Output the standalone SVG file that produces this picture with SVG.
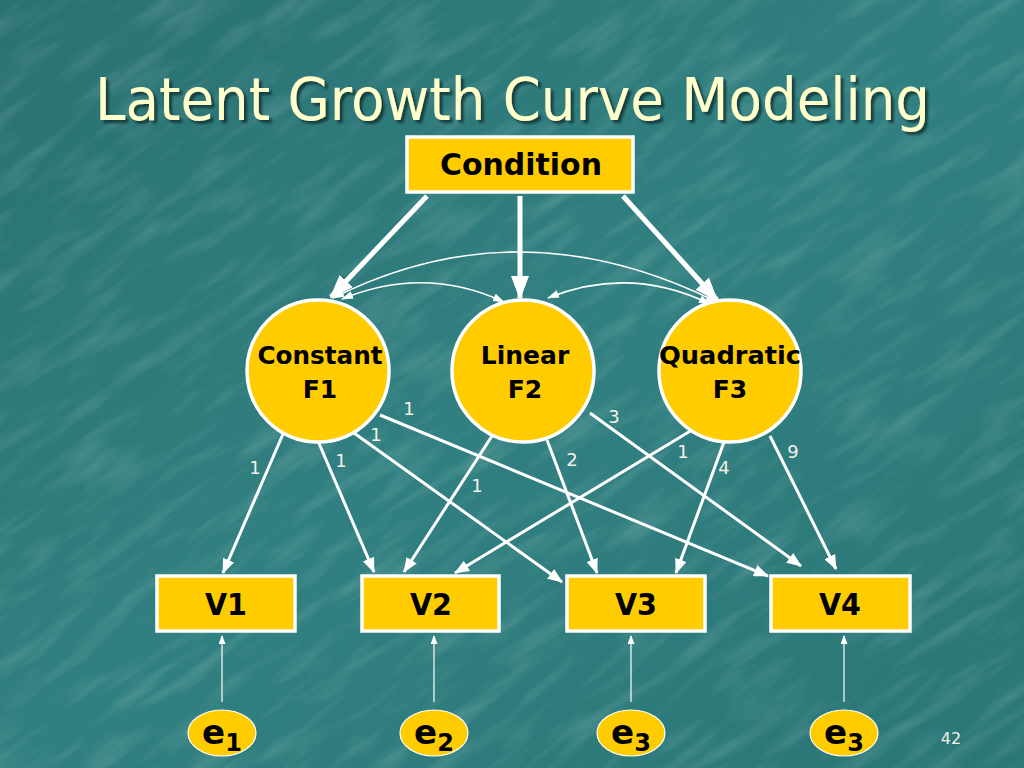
<svg xmlns="http://www.w3.org/2000/svg" width="1024" height="768" viewBox="0 0 1024 768">
<defs>
<style>
.box{fill:#FFCC00;stroke:#FFFFFF;stroke-width:3.5}
.node{fill:#FFCC00;stroke:#FFFFFF;stroke-width:3.5}
.err{fill:#FFCC00;stroke:#FFFFFF;stroke-width:1.2}
.lbl{font-family:"DejaVu Sans",Verdana,sans-serif;font-weight:bold;fill:#000000;text-anchor:middle}
.num{font-family:"DejaVu Sans",Verdana,sans-serif;font-size:18px;fill:#F2F2E6;text-anchor:middle}
.thick{stroke:#FFFFFF;stroke-width:5;fill:none;marker-end:url(#ahBig)}
.med{stroke:#FFFFFF;stroke-width:3;fill:none;marker-end:url(#ahMed)}
.curve{stroke:#FFFFFF;stroke-width:1.5;fill:none;marker-start:url(#ahSmall);marker-end:url(#ahSmall)}
.thin{stroke:#FFFFFF;stroke-width:1.2;fill:none;marker-end:url(#ahTiny)}
</style>
<marker id="ahBig" markerUnits="userSpaceOnUse" markerWidth="24" markerHeight="18" refX="22" refY="9" orient="auto"><path d="M0,0 L24,9 L0,18 z" fill="#FFFFFF"/></marker>
<marker id="ahMed" markerUnits="userSpaceOnUse" markerWidth="15" markerHeight="12" refX="14" refY="6" orient="auto"><path d="M0,0 L15,6 L0,12 z" fill="#FFFFFF"/></marker>
<marker id="ahSmall" markerUnits="userSpaceOnUse" markerWidth="12" markerHeight="8" refX="11" refY="4" orient="auto-start-reverse"><path d="M0,0 L12,4 L0,8 z" fill="#FFFFFF"/></marker>
<marker id="ahTiny" markerUnits="userSpaceOnUse" markerWidth="9" markerHeight="7" refX="8" refY="3.5" orient="auto"><path d="M0,0 L9,3.5 L0,7 z" fill="#FFFFFF"/></marker>
<linearGradient id="bg" x1="0" y1="0" x2="1" y2="1">
<stop offset="0" stop-color="#2A7172"/>
<stop offset="0.5" stop-color="#318081"/>
<stop offset="1" stop-color="#2B7677"/>
</linearGradient>
<filter id="tex" x="0" y="0" width="100%" height="100%">
<feTurbulence type="fractalNoise" baseFrequency="0.012 0.06" numOctaves="3" seed="4" result="n"/>
<feColorMatrix type="matrix" values="0 0 0 0 1  0 0 0 0 1  0 0 0 0 1  0 0 0 1.2 -0.55"/>
</filter>
<filter id="sh" x="-5%" y="-20%" width="110%" height="150%">
<feDropShadow dx="3" dy="3" stdDeviation="1.2" flood-color="#0F2E2E" flood-opacity="0.8"/>
</filter>
</defs>
<rect x="0" y="0" width="1024" height="768" fill="url(#bg)"/>
<g transform="rotate(-35 512 384)" opacity="0.25">
<rect x="-300" y="-300" width="1624" height="1368" filter="url(#tex)"/>
</g>

<g id="title">
<text x="95" y="120" font-family="'DejaVu Sans',Tahoma,sans-serif" font-size="58" fill="#FFFFCC" textLength="835" lengthAdjust="spacingAndGlyphs" filter="url(#sh)">Latent Growth Curve Modeling</text>
</g>

<g id="connectors">
<line class="thick" x1="427" y1="196" x2="331" y2="297"/>
<line class="thick" x1="520" y1="196" x2="520" y2="298"/>
<line class="thick" x1="623" y1="196" x2="717" y2="300"/>
<path class="curve" d="M333,298 Q520,204 717,302"/>
<path class="curve" d="M342,299 Q425,265 504,302"/>
<path class="curve" d="M548,298 Q630,265 710,304"/>
<line class="med" x1="283" y1="434" x2="223" y2="573"/>
<line class="med" x1="318" y1="441" x2="374" y2="572"/>
<line class="med" x1="354" y1="433" x2="562" y2="582"/>
<line class="med" x1="380" y1="415" x2="768" y2="576"/>
<line class="med" x1="492" y1="436" x2="404" y2="572"/>
<line class="med" x1="547" y1="440" x2="597" y2="573"/>
<line class="med" x1="590" y1="413" x2="801" y2="566"/>
<line class="med" x1="692" y1="430" x2="455" y2="573"/>
<line class="med" x1="724" y1="442" x2="676" y2="573"/>
<line class="med" x1="770" y1="436" x2="836" y2="569"/>
<line class="thin" x1="222" y1="702" x2="222" y2="636"/>
<line class="thin" x1="434" y1="702" x2="434" y2="636"/>
<line class="thin" x1="631" y1="702" x2="631" y2="636"/>
<line class="thin" x1="844" y1="702" x2="844" y2="636"/>
<text class="num" x="255" y="474">1</text>
<text class="num" x="341" y="467">1</text>
<text class="num" x="376" y="441">1</text>
<text class="num" x="409" y="415">1</text>
<text class="num" x="477" y="492">1</text>
<text class="num" x="572" y="466">2</text>
<text class="num" x="614" y="423">3</text>
<text class="num" x="683" y="458">1</text>
<text class="num" x="724" y="474">4</text>
<text class="num" x="793" y="458">9</text>
</g>

<g id="condition">
<rect class="box" x="407" y="137" width="226" height="55"/>
<text class="lbl" x="521" y="175" font-size="30" textLength="162" lengthAdjust="spacingAndGlyphs">Condition</text>
</g>
<g id="F1">
<circle class="node" cx="318" cy="371" r="71"/>
<text class="lbl" x="320" y="364" font-size="25" textLength="125" lengthAdjust="spacingAndGlyphs">Constant</text>
<text class="lbl" x="320" y="398" font-size="25">F1</text>
</g>
<g id="F2">
<circle class="node" cx="523" cy="371" r="71"/>
<text class="lbl" x="525" y="364" font-size="25">Linear</text>
<text class="lbl" x="525" y="398" font-size="25">F2</text>
</g>
<g id="F3">
<circle class="node" cx="730" cy="371" r="71"/>
<text class="lbl" x="730" y="364" font-size="25" textLength="142" lengthAdjust="spacingAndGlyphs">Quadratic</text>
<text class="lbl" x="730" y="398" font-size="25">F3</text>
</g>
<g id="V1">
<rect class="box" x="157" y="576" width="138" height="55"/>
<text class="lbl" x="226" y="615" font-size="31" textLength="42" lengthAdjust="spacingAndGlyphs">V1</text>
</g>
<g id="V2">
<rect class="box" x="362" y="576" width="137" height="55"/>
<text class="lbl" x="431" y="615" font-size="31" textLength="42" lengthAdjust="spacingAndGlyphs">V2</text>
</g>
<g id="V3">
<rect class="box" x="567" y="576" width="138" height="55"/>
<text class="lbl" x="636" y="615" font-size="31" textLength="42" lengthAdjust="spacingAndGlyphs">V3</text>
</g>
<g id="V4">
<rect class="box" x="771" y="576" width="139" height="55"/>
<text class="lbl" x="840" y="615" font-size="31" textLength="42" lengthAdjust="spacingAndGlyphs">V4</text>
</g>
<g id="e1">
<ellipse class="err" cx="222" cy="733" rx="34" ry="23"/>
<text class="lbl" x="222" y="744" font-size="34"><tspan>e</tspan><tspan font-size="24" dy="7">1</tspan></text>
</g>
<g id="e2">
<ellipse class="err" cx="434" cy="733" rx="34" ry="23"/>
<text class="lbl" x="434" y="744" font-size="34"><tspan>e</tspan><tspan font-size="24" dy="7">2</tspan></text>
</g>
<g id="e3">
<ellipse class="err" cx="631" cy="733" rx="34" ry="23"/>
<text class="lbl" x="631" y="744" font-size="34"><tspan>e</tspan><tspan font-size="24" dy="7">3</tspan></text>
</g>
<g id="e4">
<ellipse class="err" cx="844" cy="733" rx="34" ry="23"/>
<text class="lbl" x="844" y="744" font-size="34"><tspan>e</tspan><tspan font-size="24" dy="7">3</tspan></text>
</g>
<text x="951" y="744" font-family="'DejaVu Sans',Tahoma,sans-serif" font-size="16" fill="#F2F2E6" text-anchor="middle">42</text>
</svg>
